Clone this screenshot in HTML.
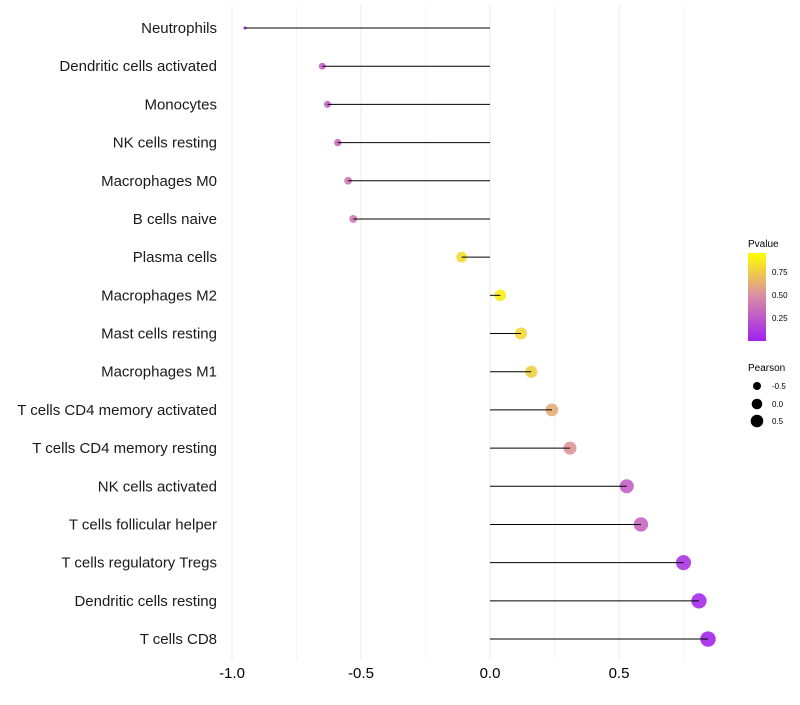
<!DOCTYPE html>
<html><head><meta charset="utf-8"><style>
body{margin:0;background:#fff;font-family:"Liberation Sans",sans-serif}
</style></head><body>
<svg id="c" width="800" height="700" font-family="Liberation Sans, sans-serif">
<defs><linearGradient id="pg" x1="0" y1="1" x2="0" y2="0">
<stop offset="0" stop-color="#a020f0"/><stop offset="0.5" stop-color="#d98aa8"/><stop offset="1" stop-color="#ffff00"/></linearGradient></defs>
<g id="grid"></g><g id="marks"></g><g id="stems"></g><g id="labels"></g>
<g>
<text x="748" y="247" font-size="10">Pvalue</text>
<rect x="748" y="253" width="18" height="88" fill="url(#pg)"/>
<text x="772" y="275" font-size="8">0.75</text>
<text x="772" y="298" font-size="8">0.50</text>
<text x="772" y="321" font-size="8">0.25</text>
<text x="748" y="371" font-size="10">Pearson</text>
<circle cx="757" cy="386" r="4" fill="#000"/><text x="772" y="389" font-size="8">-0.5</text>
<circle cx="757" cy="404" r="5.3" fill="#000"/><text x="772" y="407" font-size="8">0.0</text>
<circle cx="757" cy="421" r="6.3" fill="#000"/><text x="772" y="424" font-size="8">0.5</text>
</g>
</svg>
<script>
const cells=["Neutrophils","Dendritic cells activated","Monocytes","NK cells resting","Macrophages M0","B cells naive","Plasma cells","Macrophages M2","Mast cells resting","Macrophages M1","T cells CD4 memory activated","T cells CD4 memory resting","NK cells activated","T cells follicular helper","T cells regulatory  Tregs ","Dendritic cells resting","T cells CD8"];
const pearson=[-0.95,-0.65,-0.63,-0.59,-0.55,-0.53,-0.11,0.04,0.12,0.16,0.24,0.31,0.53,0.585,0.75,0.81,0.845];
const pvalue=[0.0,0.3,0.32,0.35,0.4,0.42,0.85,0.92,0.83,0.8,0.65,0.55,0.3,0.33,0.1,0.05,0.03];
const ticks=[-1,-0.5,0,0.5];
const NS="http://www.w3.org/2000/svg";
const x=v=>490+258*v, y=i=>28+i*38.19, r=v=>Math.sqrt(2.25+32*Math.max(0,v+0.95));
function col(p){const a=[160,32,240],m=[217,138,168],b=[255,255,0];let s,e,t;if(p<0.5){s=a;e=m;t=p/0.5}else{s=m;e=b;t=(p-0.5)/0.5}return`rgb(${s.map((c,k)=>Math.round(c+(e[k]-c)*t)).join(",")})`}
function mk(t,at,par){const e=document.createElementNS(NS,t);for(const k in at)e.setAttribute(k,at[k]);document.getElementById(par).appendChild(e);return e}
for(let v=-1;v<=0.76;v+=0.25){const g=mk("line",{x1:x(v),x2:x(v),y1:5,y2:660,stroke:Math.abs(v*2-Math.round(v*2))<1e-6?"#ebebeb":"#f5f5f5","stroke-width":1},"grid");

}
ticks.forEach(t=>{const e=mk("text",{x:x(t),y:678,"font-size":15,"text-anchor":"middle",fill:"#000"},"labels");e.textContent=t.toFixed(1);

});
cells.forEach((c,i)=>{const l=mk("text",{x:217,y:y(i)+5,"font-size":15,"text-anchor":"end",fill:"#1a1a1a","xml:space":"preserve"},"labels");l.textContent=c;


const d=mk("circle",{cx:x(pearson[i]),cy:y(i),r:r(pearson[i]),fill:col(pvalue[i]),"fill-opacity":0.9},"marks");


const s=mk("line",{x1:x(0),x2:x(pearson[i]),y1:y(i),y2:y(i),stroke:"#000","stroke-width":1},"stems");

});
</script>
</body></html>
